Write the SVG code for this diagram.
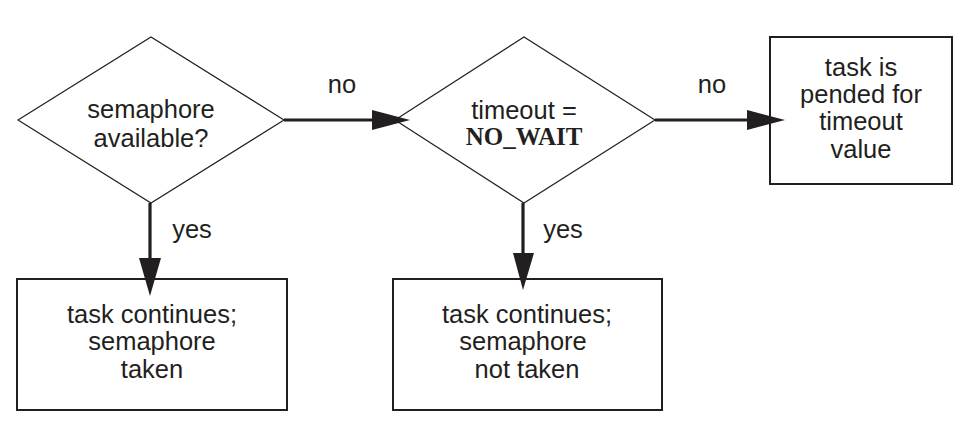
<svg xmlns="http://www.w3.org/2000/svg" width="971" height="434" viewBox="0 0 971 434">
<style>
.bg{fill:#ffffff}
.dia{fill:none;stroke:#231f20;stroke-width:1.2}
.box{fill:none;stroke:#231f20;stroke-width:2}
.t{font-family:"Liberation Sans",Arial,sans-serif;font-size:25.5px;fill:#231f20;text-anchor:middle}
.b{font-family:"Liberation Serif","Times New Roman",serif;font-size:25px;font-weight:bold;fill:#231f20;text-anchor:middle}
.c{fill:none;stroke:#231f20;stroke-width:3.2}
.ah{fill:#231f20}
</style>
<rect class="bg" x="0" y="0" width="971" height="434"/>
<g id="connectors">
<line class="c" x1="284" y1="120" x2="375" y2="120"/>
<polygon class="ah" points="372,110 410,120 372,130"/>
<line class="c" x1="655" y1="120" x2="750" y2="120"/>
<polygon class="ah" points="747,110 785,120 747,130"/>
<line class="c" x1="150" y1="203" x2="150" y2="260"/>
<polygon class="ah" points="139,258 150,296 161,258"/>
<line class="c" x1="523" y1="203" x2="523" y2="255"/>
<polygon class="ah" points="513,253 523,290 534,253"/>
<text class="t" x="342" y="93">no</text>
<text class="t" x="712" y="93">no</text>
<text class="t" x="192" y="238">yes</text>
<text class="t" x="563" y="238">yes</text>
</g>
<g id="n1">
<polygon class="dia" points="18,120 151,37 284,120 151,203"/>
<text class="t" x="151" y="118">semaphore</text>
<text class="t" x="151" y="147">available?</text>
</g>
<g id="n2">
<polygon class="dia" points="395,120 524,37 655,120 524,203"/>
<text class="t" x="524" y="119">timeout =</text>
<text class="b" x="524" y="145">NO_WAIT</text>
</g>
<g id="n3">
<rect class="box" x="770" y="37" width="182" height="147"/>
<text class="t" x="861" y="76">task is</text>
<text class="t" x="861" y="103">pended for</text>
<text class="t" x="861" y="130">timeout</text>
<text class="t" x="861" y="158">value</text>
</g>
<g id="n4">
<rect class="box" x="17" y="279" width="270" height="131"/>
<text class="t" x="152" y="323">task continues;</text>
<text class="t" x="152" y="350">semaphore</text>
<text class="t" x="152" y="378">taken</text>
</g>
<g id="n5">
<rect class="box" x="393" y="279" width="269" height="131"/>
<text class="t" x="527" y="323">task continues;</text>
<text class="t" x="523" y="350">semaphore</text>
<text class="t" x="527" y="378">not taken</text>
</g>
</svg>
